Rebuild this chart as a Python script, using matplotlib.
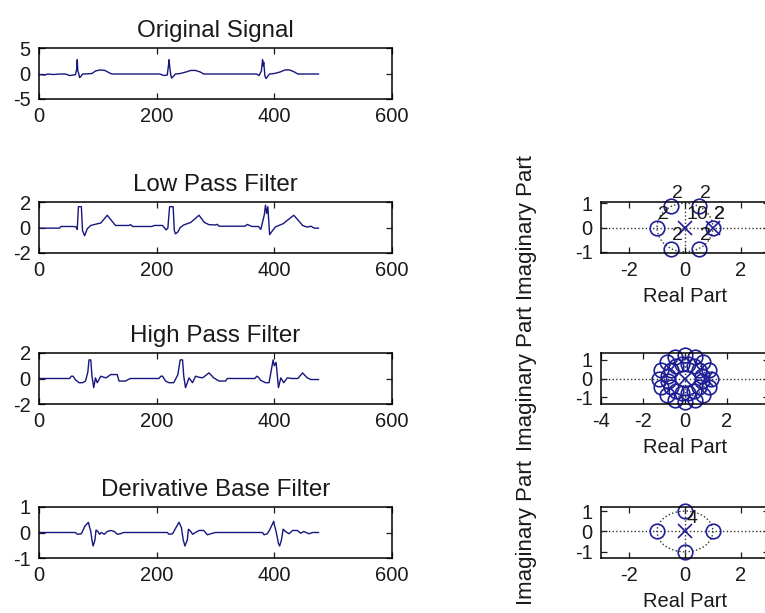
import matplotlib
matplotlib.use("Agg")
import matplotlib.pyplot as plt
from matplotlib.patches import Circle
import numpy as np

plt.rcParams["font.family"] = ["Liberation Sans", "DejaVu Sans"]
plt.rcParams["font.size"] = 14.5
plt.rcParams["axes.unicode_minus"] = False

# sygnaly - punkty (probka, amplituda)
orig_x = [0, 10, 15, 25, 35, 45, 52, 58, 62, 64, 65, 66, 68, 69, 71, 74, 78, 90, 96, 104, 112, 120, 124,
          205, 213, 218, 220, 221, 222, 224, 225.5, 228, 232, 240, 250, 258, 266, 274, 280,
          370, 374, 378, 380, 381, 382, 384, 386, 389, 392, 400, 410, 418, 426, 434, 440, 475]
orig_y = [-0.2, -0.3, -0.1, -0.2, -0.1, -0.1, -0.4, -0.3, -0.2, 0.8, 2.7, 0.5, -0.2, -0.8, -0.6, -0.1, -0.1, 0, 0.5, 0.7, 0.6, 0.1, -0.1,
          -0.1, -0.4, -0.3, 1.5, 2.7, 1.5, -0.3, -0.9, -0.6, -0.1, 0, 0.3, 0.6, 0.6, 0.3, -0.1,
          -0.1, -0.4, 0.5, 2.7, 1.5, 2.2, -0.5, -1.0, -0.5, -0.1, 0, 0.3, 0.7, 0.7, 0.3, -0.1, -0.1]

low_x = [0, 35, 37, 58, 63, 65, 67, 72, 74, 77.6, 82, 88, 99, 105, 116, 124, 130, 153, 156, 159, 192, 196, 210,
         216, 219, 222, 228, 230, 232, 236, 240, 246, 258, 272, 281, 289, 300, 303, 306, 350, 354, 362, 373,
         377, 383, 385, 387, 389, 392, 397, 402, 415, 433, 440, 448, 456, 462, 468, 475]
low_y = [-0.05, -0.05, 0.08, 0.08, 0.05, -0.15, 1.63, 1.63, -0.25, -0.64, -0.1, 0.16, 0.29, 0.35, 0.96, 0.5, 0.16, 0.16, 0.22, 0.08, 0.08, 0.16, 0.16,
         -0.19, -0.05, 1.63, 1.63, -0.24, -0.5, -0.35, 0.0, 0.2, 0.4, 0.96, 0.4, 0.22, 0.2, 0.25, 0.1, 0.1, 0.24, 0.08, 0.08,
         -0.15, 1.0, 1.76, 1.1, 1.63, -0.56, -0.24, 0.05, 0.3, 0.96, 0.6, 0.16, 0.03, 0.1, -0.05, -0.05]

high_x = [0, 52, 55, 58, 62, 68, 74, 79, 83, 85, 88, 90, 93, 96, 99, 102, 105, 110, 114, 122, 133, 136, 147, 155,
          204, 207, 210, 215, 221, 229, 236, 240, 244, 246, 249, 255, 261, 266, 272, 278, 289, 297, 306, 317, 320,
          367, 370, 373, 377, 385, 391, 398, 400, 403, 407, 411, 416, 422, 430, 440, 448, 456, 462, 475]
high_y = [0, 0, 0.18, 0.18, -0.1, -0.33, -0.33, -0.2, 0.5, 1.46, 1.46, 0.2, -0.72, 0.05, -0.33, -0.08, 0.18, 0.1, 0.05, 0.31, 0.31, -0.2, -0.2, 0,
          0, 0.18, 0.18, -0.2, -0.33, -0.33, 0.3, 1.46, 1.46, 0.2, -0.72, 0.05, -0.33, 0.18, 0.1, 0.05, 0.44, 0.05, -0.2, -0.2, 0,
          0, 0.18, 0.1, -0.15, -0.33, -0.33, 1.46, 1.0, 1.26, -0.72, 0.05, -0.33, 0.05, 0.0, 0, 0.44, 0.05, -0.08, -0.08]

der_x = [0, 62, 65, 72, 78, 84, 86, 88, 90, 92, 95, 97, 100, 103, 106, 111, 116, 122, 128, 133, 138, 144,
         218, 221, 227, 233, 238, 242, 245, 248, 252, 254, 258, 261, 266, 272, 280, 286, 295, 300,
         380, 382.5, 388, 392, 399, 400, 403, 407, 409, 412, 415, 419, 425, 431, 439, 445, 450, 459, 465, 475]
der_y = [0, 0, -0.07, -0.05, 0.25, 0.4, 0.2, 0.05, -0.3, -0.53, -0.3, 0.1, 0.04, -0.07, 0.0, -0.07, 0.04, 0.08, 0.04, -0.07, -0.05, 0,
         0, -0.07, -0.05, 0.2, 0.4, 0.2, -0.27, -0.53, -0.3, 0.13, 0.04, -0.07, 0, 0.08, 0.08, -0.09, -0.03, 0,
         0, -0.09, -0.05, 0.1, 0.44, 0.3, 0.04, -0.43, -0.53, -0.3, 0.13, 0.04, -0.05, 0.08, 0.08, -0.03, 0.04, -0.05, 0, 0]

signals = [(orig_x, orig_y), (low_x, low_y), (high_x, high_y), (der_x, der_y)]
titles = ["Original Signal", "Low Pass Filter", "High Pass Filter", "Derivative Base Filter"]
left_ylims = [(-5, 5), (-2, 2), (-2, 2), (-1, 1)]
left_yticks = [[-5, 0, 5], [-2, 0, 2], [-2, 0, 2], [-1, 0, 1]]
left_xticks = [0, 200, 400, 600]

# filtry - wspolczynniki b, a (jak w zplane)
lp_b = [1, 0, 0, 0, 0, 0, -2, 0, 0, 0, 0, 0, 1]
lp_a = [1, -2, 1]
hp_b = [-1] + [0] * 15 + [32] + [0] * 15 + [1]
hp_a = [1, -1]
der_b = [1, 0, 0, 0, -1]
der_a = [1]

filters = [(lp_b, lp_a), (hp_b, hp_a), (der_b, der_a)]
pz_xlims = [(-3, 3), (-4, 4), (-3, 3)]
pz_ylims = [(-1.05, 1.05), (-1.37, 1.37), (-1.3, 1.2)]
pz_xticks = [[-2, 0, 2], [-4, -2, 0, 2], [-2, 0, 2]]
pz_yticks = [-1, 0, 1]

line_col = "#16167e"
pz_col = "#1e1e96"
txt_col = "#1a1a1a"

W, H = 765, 613
left_tops = [48, 202, 353, 507]
ax_h = 51


def style(ax):
    ax.tick_params(direction="in", top=True, right=True, length=4, width=0.9, pad=6, colors=txt_col)
    for s in ax.spines.values():
        s.set_linewidth(1.1)


def pz_points(b, a):
    z = list(np.roots(b))
    p = list(np.roots(a))
    n = len(b) - len(a)
    if n > 0:
        p += [0j] * n
    elif n < 0:
        z += [0j] * (-n)
    return z, p


def group(roots):
    out = {}
    for r in roots:
        key = (round(r.real, 4) + 0.0, round(r.imag, 4) + 0.0)
        out[key] = out.get(key, 0) + 1
    return out


fig = plt.figure(figsize=(W / 100, H / 100), dpi=100)

for i, ((x, y), title) in enumerate(zip(signals, titles)):
    top = left_tops[i]
    ax = fig.add_axes([39 / W, (H - top - ax_h) / H, 353 / W, ax_h / H])
    ax.plot(x, y, color=line_col, lw=1.0)
    ax.set_xlim(0, 600)
    ax.set_ylim(*left_ylims[i])
    ax.set_xticks(left_xticks)
    ax.set_yticks(left_yticks[i])
    ax.set_title(title, pad=8, color=txt_col)
    style(ax)

for i, (b, a) in enumerate(filters):
    top = left_tops[i + 1]
    ax = fig.add_axes([601 / W, (H - top - ax_h) / H, 168 / W, ax_h / H])
    ax.axhline(0, color="#333333", ls=":", lw=1)
    ax.axvline(0, color="#333333", ls=":", lw=1)
    ax.add_patch(Circle((0, 0), 1, fill=False, ls=":", lw=1, ec="#333333"))
    z, p = pz_points(b, a)
    zg, pg = group(z), group(p)
    for (zx, zy), m in zg.items():
        ax.plot(zx, zy, "o", mfc="none", mec=pz_col, ms=10.5, mew=1.2, clip_on=False)
    for (px, py), m in pg.items():
        ax.plot(px, py, "x", color=pz_col, ms=10, mew=1.2, clip_on=False)
    if i != 1:
        for (gx, gy), m in list(zg.items()) + list(pg.items()):
            if m > 1:
                ax.annotate(str(m), (gx, gy), xytext=(1, 3), textcoords="offset points",
                            ha="left", va="bottom", fontsize=14, color=txt_col)
    ax.set_xlim(*pz_xlims[i])
    ax.set_ylim(*pz_ylims[i])
    ax.set_xticks(pz_xticks[i])
    ax.set_yticks(pz_yticks)
    ax.set_xlabel("Real Part", labelpad=5, color=txt_col)
    ax.set_ylabel("Imaginary Part", color=txt_col, fontsize=16)
    ax.yaxis.set_label_coords(-64 / 168, 0.5)
    style(ax)

fig.savefig("out.png", dpi=100)
